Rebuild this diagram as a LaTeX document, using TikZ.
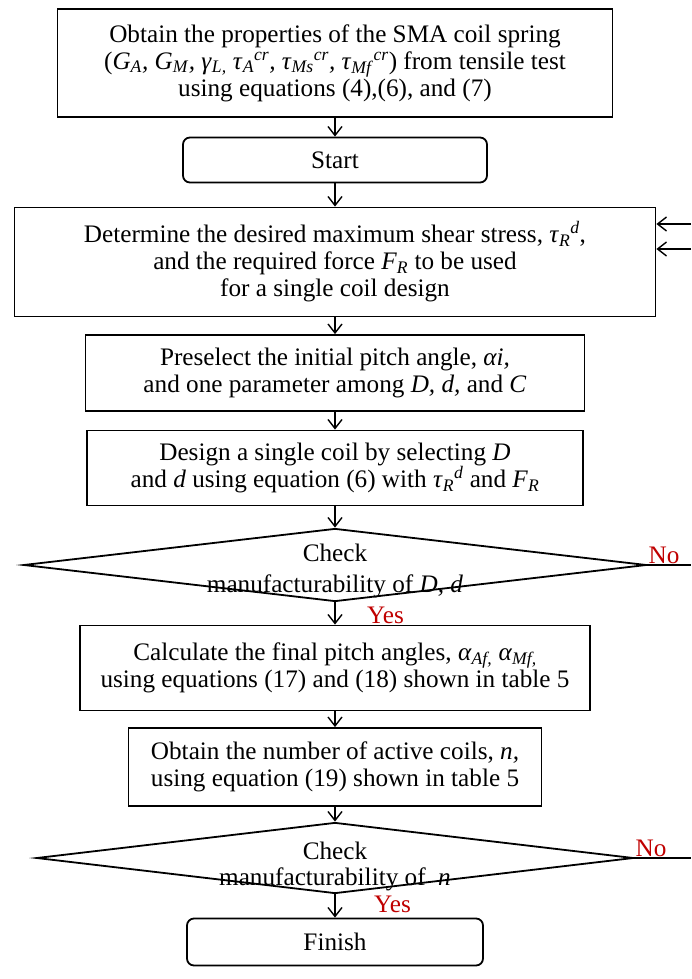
\documentclass[tikz,border=0pt]{standalone}
\usepackage{fontspec}
\setmainfont{Liberation Serif}
\usepackage{tikz}
\usetikzlibrary{arrows.meta,shapes.geometric}
\definecolor{flowred}{HTML}{C00000}
% italic symbol with subscript, and with subscript and superscript
\newcommand{\vsb}[2]{\textit{#1}\textsubscript{\textit{#2}}}
\newcommand{\vsbp}[3]{\textit{#1}\textsubscript{\textit{#2}}\textsuperscript{\textit{#3}}}

\begin{document}
\begin{tikzpicture}[x=1pt,y=-1pt,
  >={Straight Barb[length=9pt,width=14pt,line width=1.4pt]},
  font=\fontsize{25.2}{27}\selectfont,
  proc/.style={draw,line width=1.8pt,inner sep=0pt,align=center},
  term/.style={proc,rounded corners=7pt},
  decision/.style={draw,diamond,line width=1.8pt,inner sep=0pt},
  flow/.style={->,line width=1.4pt},
  answer/.style={text=flowred,inner sep=1pt}]
\path[use as bounding box] (0,0) rectangle (691,979);
\fill[white] (0,0) rectangle (691,979);

% main column of steps
\node[proc,minimum width=555pt,minimum height=108pt] (prop) at (335,63)
  {Obtain the properties of the SMA coil spring\\
   (\vsb{G}{A}\textit{,} \vsb{G}{M}\textit{,} \vsb{γ}{L,} \vsbp{τ}{A}{cr}\textit{,}
   \vsbp{τ}{Ms}{cr}\textit{,} \vsbp{τ}{Mf}{cr}) from tensile test\\
   using equations (4),(6), and (7)};
\node[term,minimum width=304pt,minimum height=45pt] (start) at (335,160) {Start};
\node[proc,minimum width=641pt,minimum height=109pt] (det) at (335,262)
  {Determine the desired maximum shear stress, \vsbp{τ}{R}{d},\\
   and the required force \vsb{F}{R} to be used\\
   for a single coil design};
\node[proc,minimum width=499pt,minimum height=76pt] (presel) at (335,373)
  {Preselect the initial pitch angle, \textit{αi,}\\
   and one parameter among \textit{D, d,} and \textit{C}};
\node[proc,minimum width=496pt,minimum height=75pt] (design) at (335,468)
  {Design a single coil by selecting \textit{D}\\
   and \textit{d} using equation (6) with \vsbp{τ}{R}{d} and \vsb{F}{R}};

% first check
\node[decision,minimum width=623pt,minimum height=73pt] (chka) at (335,565) {};
\node[align=center,font=\fontsize{25.2}{31}\selectfont] (chkatxt) at (335,571)
  {Check\\manufacturability of \textit{D, d}};

\node[proc,minimum width=510pt,minimum height=85pt] (calc) at (335,668)
  {Calculate the final pitch angles, \vsb{α}{Af,} \vsb{α}{Mf,}\\
   using equations (17) and (18) shown in table 5};
\node[proc,minimum width=413pt,minimum height=78pt] (coils) at (335,767)
  {Obtain the number of active coils, \textit{n,}\\
   using equation (19) shown in table 5};

% second check
\node[decision,minimum width=597pt,minimum height=71pt] (chkb) at (335,858) {};
\node[align=center,font=\fontsize{25.2}{26}\selectfont] (chkbtxt) at (335,866)
  {Check\\manufacturability of~ \textit{n}};
\node[term,minimum width=296pt,minimum height=47pt] (finish) at (335,942) {Finish};

% connectors
\draw[flow] (prop) -- (start);
\draw[flow] (start) -- (det);
\draw[flow] (det) -- (presel);
\draw[flow] (presel) -- (design);
\draw[flow] (design) -- (chka);
\draw[flow] (chka) -- (calc);
\draw[flow] (calc) -- (coils);
\draw[flow] (coils) -- (chkb);
\draw[flow] (chkb) -- (finish);

% branches leaving to the right and returns into the design step
\coordinate (exita) at (691,565);
\coordinate (exitb) at (691,858);
\coordinate (backa) at (691,224);
\coordinate (backb) at (691,249);
\draw[line width=1.4pt] (chka.east) -- (exita);
\draw[line width=1.4pt] (chkb.east) -- (exitb);
\draw[flow] (backa) -- (backa -| det.east);
\draw[flow] (backb) -- (backb -| det.east);

\node[answer,anchor=south west] (noa) at (chka.east) {No};
\node[answer,anchor=south west] (nob) at (chkb.east) {No};
\node[answer,anchor=north west] (yesa) at ([xshift=31pt,yshift=-3pt]chka.south) {Yes};
\node[answer,anchor=north west] (yesb) at ([xshift=38pt]chkb.south) {Yes};
\end{tikzpicture}
\end{document}
